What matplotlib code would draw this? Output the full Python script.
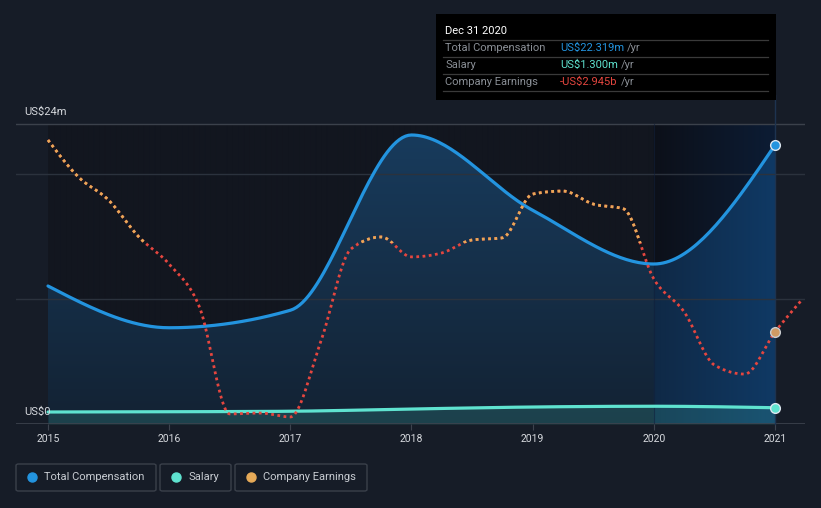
import numpy as np
import matplotlib
matplotlib.use("Agg")
import matplotlib.pyplot as plt
from matplotlib.patches import Rectangle, Polygon, FancyBboxPatch
from matplotlib.colors import to_rgb

# ---------------- data ----------------
years = [2015, 2016, 2017, 2018, 2019, 2020, 2021]
year_labels = ["2015", "2016", "2017", "2018", "2019", "2020", "2021"]
total_comp = [11.04, 7.7, 9.1, 23.12, 17.1, 12.8, 22.319]      # US$ m
salary = [0.96, 0.98, 1.02, 1.2, 1.36, 1.42, 1.30]              # US$ m

earn_x = [2015.0, 2015.25, 2015.5, 2015.75, 2016.0, 2016.25, 2016.5, 2016.75,
          2017.0, 2017.25, 2017.5, 2017.75, 2018.0, 2018.25, 2018.5, 2018.75,
          2019.0, 2019.25, 2019.5, 2019.75, 2020.0, 2020.25, 2020.5, 2020.75,
          2021.0, 2021.22]
earnings = [3.41, 2.19, 1.42, 0.20, -0.70, -2.12, -5.66, -5.63,
            -5.76, -3.28, -0.20, 0.20, -0.46, -0.33, 0.10, 0.17,
            1.62, 1.72, 1.29, 1.13, -1.19, -2.28, -4.04, -4.34,
            -2.945, -1.89]                                          # US$ b

# ---------------- helpers ----------------
def monotone(x, y, n=40):
    x = np.asarray(x, float); y = np.asarray(y, float)
    h = np.diff(x); s = np.diff(y) / h
    m = np.zeros_like(y)
    for k in range(1, len(y) - 1):
        s0, s1 = s[k - 1], s[k]
        p = (s0 * h[k] + s1 * h[k - 1]) / (h[k - 1] + h[k])
        m[k] = (np.sign(s0) + np.sign(s1)) * min(abs(s0), abs(s1), 0.5 * abs(p))
    m[0] = (3 * s[0] - m[1]) / 2 if len(y) > 2 else s[0]
    m[-1] = (3 * s[-1] - m[-2]) / 2 if len(y) > 2 else s[-1]
    xs, ys = [], []
    for k in range(len(h)):
        t = np.linspace(0, 1, n, endpoint=(k == len(h) - 1))
        h00 = 2 * t**3 - 3 * t**2 + 1
        h10 = t**3 - 2 * t**2 + t
        h01 = -2 * t**3 + 3 * t**2
        h11 = t**3 - t**2
        xs.append(x[k] + t * h[k])
        ys.append(h00 * y[k] + h10 * h[k] * m[k] + h01 * y[k + 1] + h11 * h[k] * m[k + 1])
    return np.concatenate(xs), np.concatenate(ys)

W, H = 821, 508
BG = "#161c27"
plt.rcParams["font.family"] = ["Roboto", "DejaVu Sans"]

fig = plt.figure(figsize=(W / 100, H / 100), dpi=100, facecolor=BG)

def fx(px): return px / W
def fy(py): return 1 - py / H

ax_left, ax_right, ax_top, ax_bot = 16, 805, 95, 424
x0 = 2015 - (48 - ax_left) / (727 / 6)
x1 = 2021 + (ax_right - 775) / (727 / 6)
ax = fig.add_axes([fx(ax_left), fy(ax_bot), (ax_right - ax_left) / W, (ax_bot - ax_top) / H])
ax.set_facecolor("none")
ymax1 = (ax_bot - ax_top) / 12.5
ax.set_xlim(x0, x1)
ax.set_ylim(0, ymax1)
for s in ax.spines.values():
    s.set_visible(False)

# data-area backgrounds
nx, ny = 600, 300
xs_g = np.linspace(2015, 2021, nx)
ys_g = np.linspace(0, 24, ny)
XX, YY = np.meshgrid(xs_g, ys_g)
bg_img = np.zeros((ny, nx, 3))
bg_img[:] = to_rgb("#12161f")
hl = XX >= 2020
t = np.clip(XX - 2020, 0, 1)
cL, cR = np.array(to_rgb("#0c1019")), np.array(to_rgb("#0c1c34"))
bg_img[hl] = (cL + (cR - cL) * t[hl][:, None])
ax.imshow(bg_img, extent=[2015, 2021, 0, 24], origin="lower", aspect="auto", zorder=0.5,
          interpolation="bilinear")

# gradient fill under total compensation
fill_img = np.zeros((ny, nx, 3))
cTop, cBot = np.array(to_rgb("#183c5e")), np.array(to_rgb("#132233"))
fy_ = (YY / 24)[..., None]
fill_img[:] = cBot + (cTop - cBot) * fy_
hL, hR = np.array(to_rgb("#0f2946")), np.array(to_rgb("#0f3964"))
fill_img[hl] = (hL + (hR - hL) * t[hl][:, None])
cx, cy = monotone(years, total_comp)
poly = Polygon(np.column_stack([np.r_[cx, cx[-1], cx[0]], np.r_[cy, 0, 0]]),
               closed=True, transform=ax.transData, facecolor="none", edgecolor="none")
ax.add_patch(poly)
im = ax.imshow(fill_img, extent=[2015, 2021, 0, 24], origin="lower", aspect="auto", zorder=1,
               interpolation="bilinear")
im.set_clip_path(poly)

# salary fill
sx, sy = monotone(years, salary)
ax.fill_between(sx, 0, sy, color="#3fb3a6", alpha=0.22, lw=0, zorder=1.2)

# gridlines
ax.axhline(24, color="#3b414b", lw=1, zorder=1.5)
for gv in (20, 10):
    ax.axhline(gv, color="#2b323d", lw=1, zorder=1.5)
ax.axhline(0, color="#3d434e", lw=1.2, zorder=1.5)
ax.plot([2021, 2021], [0, ymax1], color="#1d3350", lw=1, zorder=1.6, clip_on=False)
ax.plot([2020, 2020], [0, 24], color="#12203a", lw=0.8, alpha=0.6, zorder=1.6)

# lines
ax.plot(cx, cy, color="#2394df", lw=2.3, zorder=3, solid_capstyle="round")
ax.plot(sx, sy, color="#5fe3d0", lw=2.3, zorder=3, solid_capstyle="round")
ax.plot([years[-1]], [total_comp[-1]], "o", ms=7, mfc="#2394df", mec="#dce6f0", mew=1, zorder=6)
ax.plot([years[-1]], [salary[-1]], "o", ms=7, mfc="#5fe3d0", mec="#dce6f0", mew=1, zorder=6)

# ticks
ax.set_xticks(years)
ax.set_xticklabels(year_labels)
ax.tick_params(axis="x", length=4, color="#3d434e", labelcolor="#d6d9de", labelsize=7.5, pad=3)
ax.set_yticks([])

# earnings on secondary axis
ax2 = ax.twinx()
ax2.set_facecolor("none")
for s in ax2.spines.values():
    s.set_visible(False)
ax2.set_yticks([])
ppb = 30.2
ax2.set_ylim(-(ax_bot - 243) / ppb, (243 - ax_top) / ppb)
ax2.set_xlim(x0, x1)
ex, ey = monotone(earn_x, earnings)
ax2.plot(ex, ey, color="#e5463f", lw=2.0, ls=(0, (1.0, 1.25)), zorder=4)
lo = ax2.plot(ex, ey, color="#e6aa58", lw=2.0, ls=(0, (1.0, 1.25)), zorder=4.1)[0]
clip = Rectangle((2014, 0), 10, 20, transform=ax2.transData)
lo.set_clip_path(clip)
ax2.plot([2021], [-2.945], "o", ms=7, mfc="#cf9a64", mec="#c9ccd0", mew=1, zorder=6)

# y labels
fig.text(fx(24), fy(112), "US$24m", color="#d6d9de", fontsize=8, va="center", ha="left")
fig.text(fx(24), fy(412), "US$0", color="#d6d9de", fontsize=8, va="center", ha="left")

# tooltip
fig.patches.append(Rectangle((fx(436), fy(100)), (776 - 436) / W, 86 / H, transform=fig.transFigure,
                             facecolor="#000000", edgecolor="none", zorder=10))
fig.text(fx(445), fy(31), "Dec 31 2020", color="#ffffff", fontsize=8, va="center", zorder=11)
for yy in (40, 57, 74, 91):
    fig.lines.append(plt.Line2D([fx(443), fx(768)], [fy(yy), fy(yy)], transform=fig.transFigure,
                                color="#3a3a3a", lw=0.9, zorder=11))
rows = [("Total Compensation", "US$22.319m", "#2394df", 48, 627),
        ("Salary", "US$1.300m", "#5fe3d0", 65, 621),
        ("Company Earnings", "-US$2.945b", "#e5463f", 82, 621)]
for lab, val, col, yy, slx in rows:
    fig.text(fx(445), fy(yy), lab, color="#8a8f96", fontsize=8, va="center", zorder=11)
    fig.text(fx(560), fy(yy), val, color=col, fontsize=8, va="center", zorder=11)
    fig.text(fx(slx), fy(yy), "/yr", color="#8a8f96", fontsize=8, va="center", zorder=11)

# legend
legend = [(16, 156, "#2394df", 32, 44, "Total Compensation"),
          (160, 231, "#5fe3d0", 176, 188, "Salary"),
          (235, 367, "#e6aa58", 251, 263, "Company Earnings")]
for bx0, bx1, col, dx, tx, lab in legend:
    fig.patches.append(FancyBboxPatch((fx(bx0), fy(491)), (bx1 - bx0) / W, 27 / H,
                                      boxstyle="round,pad=0,rounding_size=0.003",
                                      transform=fig.transFigure, facecolor=BG,
                                      edgecolor="#3a404a", lw=1, zorder=10))
    fig.lines.append(plt.Line2D([fx(dx)], [fy(477)], marker="o", ms=6.5, mfc=col, mec=col,
                                transform=fig.transFigure, zorder=11))
    fig.text(fx(tx), fy(477), lab, color="#c8ccd2", fontsize=8, va="center", zorder=11)

fig.savefig("out.png", dpi=100, facecolor=BG)
